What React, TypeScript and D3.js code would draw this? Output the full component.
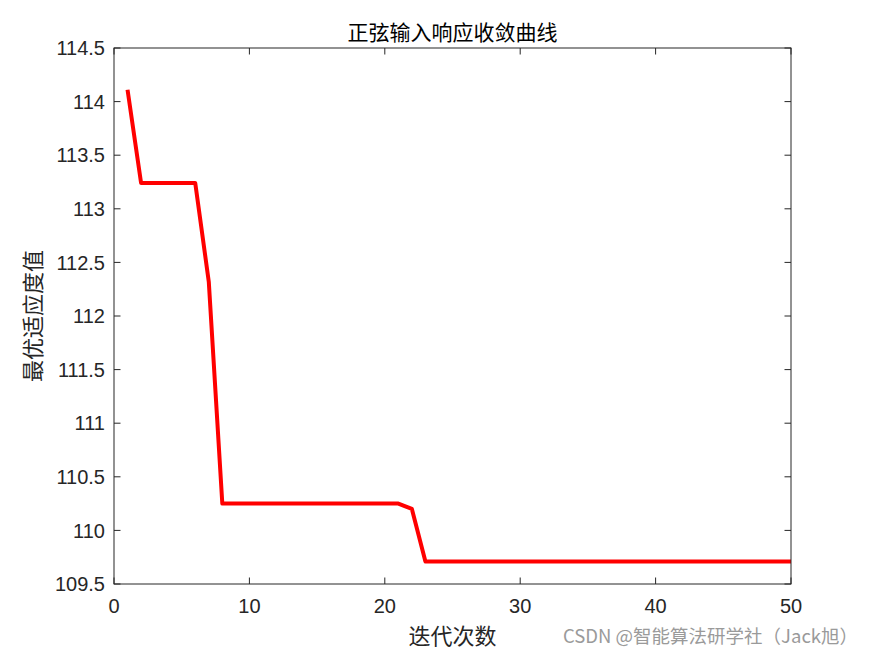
import React from "react";
import * as d3 from "d3";

const iterations: number[] = d3.range(1, 51);
const fitness: number[] = [
  114.11, 113.24, 113.24, 113.24, 113.24, 113.24, 112.32, 110.25, 110.25, 110.25,
  110.25, 110.25, 110.25, 110.25, 110.25, 110.25, 110.25, 110.25, 110.25, 110.25,
  110.25, 110.2, 109.71, 109.71, 109.71, 109.71, 109.71, 109.71, 109.71, 109.71,
  109.71, 109.71, 109.71, 109.71, 109.71, 109.71, 109.71, 109.71, 109.71, 109.71,
  109.71, 109.71, 109.71, 109.71, 109.71, 109.71, 109.71, 109.71, 109.71, 109.71,
];
const xTicks: number[] = [0, 10, 20, 30, 40, 50];
const yTicks: number[] = [109.5, 110, 110.5, 111, 111.5, 112, 112.5, 113, 113.5, 114, 114.5];
const titleText = "正弦输入响应收敛曲线";
const xLabelText = "迭代次数";
const yLabelText = "最优适应度值";
const watermark = "CSDN @智能算法研学社（Jack旭）";

const W = 875;
const H = 656;
const L = 114, R = 791, T = 48, B = 584;

export default function App() {
  const x = d3.scaleLinear().domain([0, 50]).range([L, R]);
  const y = d3.scaleLinear().domain([109.5, 114.5]).range([B, T]);
  const line = d3
    .line<number>()
    .x((_, i) => x(iterations[i]))
    .y((d) => y(d));
  const axisColor = "#262626";
  const tl = 6.5;
  const cjk = "'Noto Sans CJK SC', sans-serif";
  const num = "'Liberation Sans', Arial, sans-serif";
  return (
    <svg
      width={W}
      height={H}
      style={{ position: "absolute", left: 0, top: 0, background: "#fff" }}
    >
      <rect x={0} y={0} width={W} height={H} fill="#fff" />
      <path d={line(fitness) || ""} fill="none" stroke="#ff0000" strokeWidth={4} strokeLinejoin="round" />
      <rect x={L} y={T} width={R - L} height={B - T} fill="none" stroke={axisColor} strokeWidth={1} />
      {xTicks.map((t) => (
        <g key={"x" + t}>
          <line x1={x(t)} x2={x(t)} y1={B} y2={B - tl} stroke={axisColor} />
          <line x1={x(t)} x2={x(t)} y1={T} y2={T + tl} stroke={axisColor} />
          <text x={x(t)} y={613} textAnchor="middle" fontFamily={num} fontSize={20} fill={axisColor}>
            {t}
          </text>
        </g>
      ))}
      {yTicks.map((t) => (
        <g key={"y" + t}>
          <line x1={L} x2={L + tl} y1={y(t)} y2={y(t)} stroke={axisColor} />
          <line x1={R} x2={R - tl} y1={y(t)} y2={y(t)} stroke={axisColor} />
          <text x={105} y={y(t)} dy="0.36em" textAnchor="end" fontFamily={num} fontSize={20} fill={axisColor}>
            {t}
          </text>
        </g>
      ))}
      <text x={(L + R) / 2} y={40} textAnchor="middle" fontFamily={cjk} fontSize={21} fill="#000">
        {titleText}
      </text>
      <text x={(L + R) / 2} y={644} textAnchor="middle" fontFamily={cjk} fontSize={22} fill={axisColor}>
        {xLabelText}
      </text>
      <text
        transform={`translate(41, ${(T + B) / 2}) rotate(-90)`}
        textAnchor="middle"
        fontFamily={cjk}
        fontSize={22}
        fill={axisColor}
      >
        {yLabelText}
      </text>
      <text x={563} y={643} textAnchor="start" fontFamily={cjk} fontSize={18.5} fill="#9a9a9a">
        {watermark}
      </text>
    </svg>
  );
}
